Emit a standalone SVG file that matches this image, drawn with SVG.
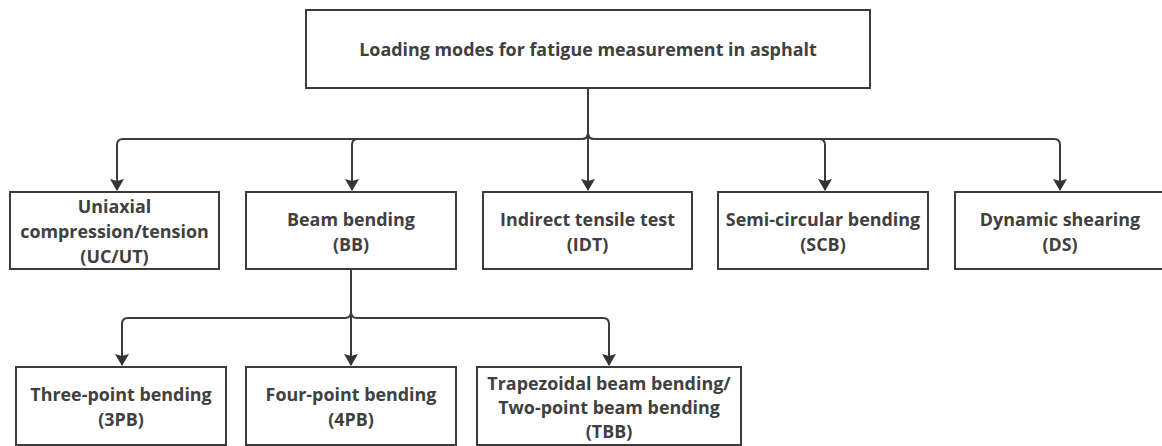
<svg xmlns="http://www.w3.org/2000/svg" width="1162" height="446" viewBox="0 0 1162 446">
  <style>
    .box { fill: #ffffff; stroke: #3c3c3c; stroke-width: 2; }
    .lbl { font-family: "Open Sans", "Noto Sans", "Liberation Sans", sans-serif; font-weight: 700; font-size: 17.9px; fill: #404040; text-anchor: middle; dominant-baseline: central; }
    .edge { fill: none; stroke: #3c3c3c; stroke-width: 2; marker-end: url(#arrow); }
  </style>
  <defs>
    <marker id="arrow" viewBox="0 0 12 14" refX="11" refY="7" markerWidth="12" markerHeight="14" markerUnits="userSpaceOnUse" orient="auto">
      <path d="M0,0 L12,7 L0,14 L2,7 Z" fill="#333333"/>
    </marker>
  </defs>
  <rect width="1162" height="446" fill="#ffffff"/>

  <!-- connectors -->
  <g id="connectors">
    <!-- root to first-level categories -->
    <path class="edge" d="M588,88 V133 Q588,139 582,139 H123 Q117,139 117,145 V190"/>
    <path class="edge" d="M588,88 V133 Q588,139 582,139 H358 Q352,139 352,145 V190"/>
    <path class="edge" d="M588,88 V190"/>
    <path class="edge" d="M588,88 V133 Q588,139 594,139 H819 Q825,139 825,145 V190"/>
    <path class="edge" d="M588,88 V133 Q588,139 594,139 H1054 Q1060,139 1060,145 V190"/>
    <!-- beam bending to its variants -->
    <path class="edge" d="M351,269 V312 Q351,318 345,318 H128 Q122,318 122,324 V365"/>
    <path class="edge" d="M351,269 V365"/>
    <path class="edge" d="M351,269 V312 Q351,318 357,318 H603 Q609,318 609,324 V365"/>
  </g>

  <g id="root">
    <rect class="box" x="306" y="10" width="564" height="78"/>
    <text class="lbl" x="588" y="49">Loading modes for fatigue measurement in asphalt</text>
  </g>

  <g id="uc-ut">
    <rect class="box" x="10" y="192" width="209" height="77"/>
    <text class="lbl" x="114.5" y="206">Uniaxial</text>
    <text class="lbl" x="114.5" y="231">compression/tension</text>
    <text class="lbl" x="114.5" y="256">(UC/UT)</text>
  </g>

  <g id="bb">
    <rect class="box" x="246" y="192" width="210" height="77"/>
    <text class="lbl" x="351" y="219">Beam bending</text>
    <text class="lbl" x="351" y="244">(BB)</text>
  </g>

  <g id="idt">
    <rect class="box" x="483" y="192" width="209" height="77"/>
    <text class="lbl" x="587.5" y="219">Indirect tensile test</text>
    <text class="lbl" x="587.5" y="244">(IDT)</text>
  </g>

  <g id="scb">
    <rect class="box" x="718" y="192" width="210" height="77"/>
    <text class="lbl" x="823" y="219">Semi-circular bending</text>
    <text class="lbl" x="823" y="244">(SCB)</text>
  </g>

  <g id="ds">
    <rect class="box" x="955" y="192" width="210" height="77"/>
    <text class="lbl" x="1060" y="219">Dynamic shearing</text>
    <text class="lbl" x="1060" y="244">(DS)</text>
  </g>

  <g id="pb3">
    <rect class="box" x="16" y="367" width="210" height="78"/>
    <text class="lbl" x="121" y="394">Three-point bending</text>
    <text class="lbl" x="121" y="419">(3PB)</text>
  </g>

  <g id="pb4">
    <rect class="box" x="246" y="367" width="210" height="78"/>
    <text class="lbl" x="351" y="394">Four-point bending</text>
    <text class="lbl" x="351" y="419">(4PB)</text>
  </g>

  <g id="tbb">
    <rect class="box" x="477" y="367" width="264" height="78"/>
    <text class="lbl" x="609" y="383">Trapezoidal beam bending/</text>
    <text class="lbl" x="609" y="407">Two-point beam bending</text>
    <text class="lbl" x="609" y="431">(TBB)</text>
  </g>
</svg>
